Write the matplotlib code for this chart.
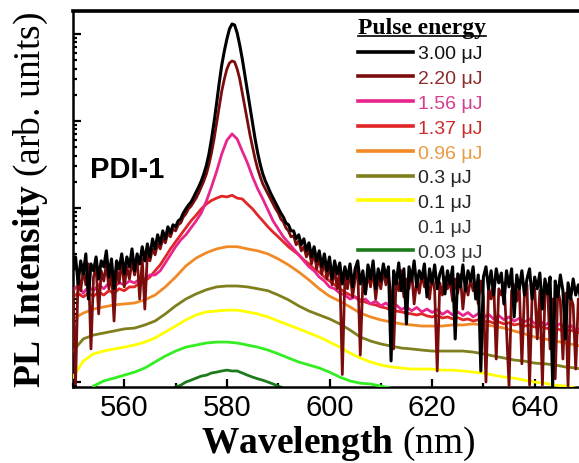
import numpy as np
import matplotlib
matplotlib.use("Agg")
import matplotlib.pyplot as plt
from matplotlib.lines import Line2D
from matplotlib.ticker import MultipleLocator

plt.rcParams['font.family'] = ['Liberation Sans', 'DejaVu Sans']
plt.rcParams['mathtext.fontset'] = 'custom'
plt.rcParams['mathtext.rm'] = 'Liberation Serif'
plt.rcParams['mathtext.bf'] = 'Liberation Serif:bold'

# wavelength grids (nm) of the spectra
wl_fine = np.arange(550.0, 649.01, 0.5)
wl_1nm = np.arange(550, 650)
wl_2nm = np.arange(550, 651, 2)
wl_green = np.arange(554, 613, 2)
wl_dkgreen = np.arange(570, 592)

# PL intensity (arb. units, log axis)
pl_3_00 = [
    20.0, 27.4, 13.4, 24.7, 17.5, 29.7, 9.0, 22.8, 19.0, 27.4,
    15.3, 24.7, 21.1, 32.2, 16.1, 26.0, 11.8, 24.7, 20.0, 29.7,
    17.5, 27.4, 21.1, 33.9, 19.0, 29.7, 22.8, 35.9, 24.7, 38.7,
    27.4, 44.2, 33.9, 49.2,
    38.7, 54.6, 44.2, 60.8, 51.8, 64.1, 60.8, 71.1, 75.0, 87.7,
    97.7, 108, 117, 133, 153, 175, 204, 246, 309, 418,
    621, 974, 1610, 2740, 4400, 6370, 8760, 11420, 13020, 12680,
    10270, 7470, 5160, 3380, 2210, 1450, 948, 621, 430, 317,
    246, 204, 175, 149, 130, 114, 100, 87.7, 78.8, 67.5,
    64.1, 54.6, 54.6, 44.2, 49.2, 37.8, 44.2, 32.2, 39.8, 27.4,
    35.9, 24.7, 32.2, 21.1, 29.7, 19.0, 27.4, 15.3, 24.7, 17.5,
    23.4, 13.4,
    21.1, 15.3, 22.8, 12.4, 20.0, 24.7, 13.4, 19.0, 10.3, 22.2,
    15.3, 24.7, 11.8, 20.0, 14.5, 22.8, 16.1, 21.1, 1.75, 19.0,
    13.4, 23.4, 11.2, 20.0, 4.66, 21.1, 14.5, 24.7, 12.4, 19.0,
    15.3, 22.8, 9.5, 20.0, 13.8, 22.2, 11.8, 17.5, 21.1, 10.3,
    19.0, 13.4, 21.1, 3.13, 17.5, 12.4, 22.2, 11.2, 19.0, 14.5,
    21.1, 9.0, 17.0, 1.34, 16.1, 21.1, 11.8, 19.0, 10.0, 20.0,
    13.8, 17.9, 7.9, 19.0, 12.4, 20.0, 5.6, 17.0, 11.8, 19.0,
    10.0, 15.3, 20.0, 9.0, 16.1, 11.8, 17.9, 6.9, 15.3, 10.3,
    16.1, 0.90, 14.5, 9.5, 17.0, 11.2, 3.13, 13.8, 9.0, 15.3,
    10.0, 13.1, 8.5,
]
pl_2_20 = [
    11.8, 0.95, 17.5, 11.2, 20.0, 13.1, 22.8, 2.40, 16.1, 21.1,
    6.07, 19.0, 14.5, 22.8, 11.8, 20.0, 5.03, 21.1, 13.8, 24.7,
    12.4, 21.1, 15.3, 24.7, 17.0, 27.4, 9.0, 26.0, 6.9, 29.7,
    24.7, 33.9, 29.0, 38.7,
    33.9, 44.2, 39.8, 51.8, 46.7, 57.5, 54.6, 64.1, 67.5, 78.8,
    85.6, 97.7, 105, 117, 130, 149, 175, 204, 246, 317,
    430, 621, 948, 1450, 2210, 3040, 3960, 4640, 4900, 4770,
    3960, 3040, 2100, 1450, 1000, 692, 505, 366, 281, 228,
    189, 166, 145, 127, 111, 97.7, 87.7, 75.0, 69.3, 59.2,
    54.6, 46.7, 48.0, 37.8, 42.0, 32.2, 35.9, 27.4, 33.9, 22.8,
    30.6, 20.0, 27.4, 17.5, 24.7, 15.3, 22.2, 13.1, 20.0, 11.8,
    19.0, 1.22,
    16.1, 11.8, 19.0, 9.5, 15.3, 20.0, 2.04, 14.5, 10.3, 17.9,
    12.4, 20.0, 9.0, 16.1, 11.8, 19.0, 13.1, 17.0, 10.0, 2.40,
    15.3, 11.2, 19.0, 9.5, 15.3, 11.8, 19.0, 7.9, 14.5, 10.5,
    17.5, 12.4, 15.3, 9.0, 17.0, 11.2, 1.34, 13.8, 10.0, 16.1,
    11.8, 14.5, 8.5, 15.3, 10.5, 17.0, 6.9, 13.8, 10.0, 15.3,
    11.2, 13.1, 7.9, 14.5, 9.5, 1.0, 12.4, 9.0, 14.5, 1.84,
    11.8, 10.0, 13.8, 4.08, 0.90, 11.2, 13.1, 8.5, 12.4, 1.62,
    10.5, 13.1, 0.92, 10.0, 11.8, 3.13, 11.2, 0.92, 10.0, 12.4,
    2.40, 9.0, 1.09, 11.2, 8.5, 1.84, 10.5, 0.90, 9.5, 7.7,
    1.41, 9.0, 6.9,
]
pl_1_56 = [
    11.2, 13.1, 10.5, 12.4, 11.2, 13.1, 11.8, 13.8, 12.4, 13.8,
    13.1, 14.5, 13.8, 15.3, 15.3, 17.0, 17.0, 19.0, 23.4, 29.0,
    35.9, 43.0, 49.2, 59.2, 71.1, 87.7, 120, 175, 264, 418,
    601, 710, 621, 450, 331, 228, 166, 127, 95.1, 71.1,
    57.5, 46.7, 39.8, 33.9, 29.0, 24.7, 21.1, 19.0, 16.1, 14.5,
    12.4, 11.8, 10.5, 10.0, 9.0, 9.5, 8.4, 9.0, 7.9, 8.5,
    7.5, 8.1, 7.1, 7.7, 6.8, 7.3, 6.6, 7.2, 6.4, 6.9,
    6.3, 6.8, 6.0, 6.55, 5.9, 6.4, 5.8, 6.3, 5.6, 6.1,
    5.5, 6.0, 5.3, 5.8, 5.2, 5.6, 5.0, 5.4, 4.9, 5.3,
    4.7, 5.1, 4.5, 4.9, 4.3, 4.7, 4.1, 4.5, 3.9, 4.2,
]
pl_1_37 = [
    9.5, 10.5, 9.5, 10.5, 9.7, 10.8, 10.0, 11.2, 10.5, 11.8,
    11.2, 12.4, 12.4, 13.8, 14.5, 16.1, 19.0, 22.2, 27.4, 33.9,
    40.9, 49.2, 59.2, 71.1, 82.8, 97.7, 111, 122, 130, 137,
    134, 140, 130, 127, 111, 97.7, 82.8, 71.1, 60.8, 52.9,
    46.7, 40.9, 35.9, 32.2, 29.0, 25.3, 22.8, 20.0, 18.4, 16.1,
    14.5, 13.1, 11.8, 10.8, 10.0, 9.5, 8.8, 8.3, 7.9, 7.7,
    7.3, 7.1, 6.7, 6.55, 6.4, 6.2, 6.07, 5.9, 6.1, 5.75,
    5.6, 5.8, 5.45, 5.6, 5.32, 5.5, 5.18, 5.3, 5.03, 5.2,
    4.9, 5.0, 4.77, 4.9, 4.66, 4.8, 4.53, 4.65, 4.4, 4.5,
    4.29, 4.4, 4.17, 4.08, 4.2, 3.96, 3.86, 3.95, 3.76, 3.66,
]
pl_0_96 = [
    5.32, 6.2, 6.9, 7.3, 7.7, 7.9, 8.1, 8.8, 10.0, 12.4,
    16.1, 21.6, 26.6, 30.6, 33.9, 35.9, 35.9, 33.9, 32.2, 29.7,
    26.0, 22.2, 18.4, 14.9, 11.8, 9.7, 8.5, 7.3, 6.2, 5.6,
    5.18, 4.9, 4.66, 4.53, 4.4, 4.4, 4.4, 4.53, 4.53, 4.66,
    4.53, 4.4, 4.17, 3.86, 3.58, 3.29, 3.13, 2.96, 2.81, 2.66, 2.52,
]
pl_0_3 = [
    2.27, 3.13, 3.47, 3.66, 3.86, 4.08, 4.17, 4.53, 5.03, 6.07,
    7.5, 9.0, 10.3, 11.5, 12.4, 12.7, 12.7, 12.4, 11.8, 11.2,
    10.0, 8.8, 7.5, 6.55, 5.9, 5.32, 4.66, 3.96, 3.29, 2.96,
    2.74, 2.59, 2.46, 2.40, 2.33, 2.27, 2.27, 2.27, 2.27, 2.21,
    2.11, 1.99, 1.89, 1.79, 1.74, 1.65, 1.62, 1.57, 1.49, 1.45, 1.37,
]
pl_0_1 = [
    1.14, 1.74, 2.11, 2.27, 2.40, 2.52, 2.66, 2.88, 3.21, 3.76,
    4.4, 5.18, 5.9, 6.4, 6.55, 6.7, 6.7, 6.4, 6.07, 5.6,
    5.03, 4.53, 4.08, 3.66, 3.29, 2.88, 2.52, 2.15, 1.89, 1.70,
    1.57, 1.49, 1.45, 1.41, 1.41, 1.41, 1.37, 1.37, 1.34, 1.30,
    1.27, 1.20, 1.14, 1.11, 1.05, 1.0, 0.97, 0.92, 0.90, 0.85, 0.83,
]
pl_0_1b = [
    0.90, 1.03, 1.11, 1.20, 1.30, 1.45, 1.70, 1.99, 2.27, 2.52,
    2.66, 2.81, 2.88, 2.88, 2.81, 2.66, 2.52, 2.33, 2.11, 1.89,
    1.70, 1.57, 1.45, 1.30, 1.14, 1.03, 0.97, 0.95, 0.90, 0.85,
]
pl_0_03 = [
    0.877, 0.92, 1.0, 1.05, 1.11, 1.17, 1.20, 1.27, 1.30, 1.34,
    1.37, 1.34, 1.34, 1.27, 1.20, 1.14, 1.09, 1.05, 1.0, 0.95,
    0.90, 0.85,
]

labels = ['3.00 μJ', '2.20 μJ', '1.56 μJ', '1.37 μJ', '0.96 μJ',
          '0.3 μJ', '0.1 μJ', '0.1 μJ', '0.03 μJ']
colors = ['#000000', '#7a0c0c', '#e8258c', '#e02626', '#f08a26',
          '#7f7f1e', '#ffff00', '#33ee22', '#1c7c1c']
text_colors = ['#111111', '#8b2a2a', '#d63c8f', '#cc2b2b', '#e89a40',
               '#222222', '#222222', '#333333', '#333333']

series = [(wl_fine, pl_3_00), (wl_fine, pl_2_20), (wl_1nm, pl_1_56),
          (wl_1nm, pl_1_37), (wl_2nm, pl_0_96), (wl_2nm, pl_0_3),
          (wl_2nm, pl_0_1), (wl_green, pl_0_1b), (wl_dkgreen, pl_0_03)]

fig = plt.figure(figsize=(5.79, 4.64), dpi=100)
ax = fig.add_axes([73/579, 76/464, 513/579, 376/464])

handles = [None] * len(series)
for i in reversed(range(len(series))):
    x, y = series[i]
    lw = 2.2 if i == 0 else 2.0
    ln, = ax.plot(x, y, color=colors[i], lw=lw, zorder=10 - i)
    handles[i] = ln
# the second 0.1 uJ entry has no visible line in the key
handles[7] = Line2D([], [], color='none', lw=2)

ax.set_yscale('log')
ax.set_xlim(550, 650)
ax.set_ylim(0.877, 18370)
ax.xaxis.set_major_locator(MultipleLocator(20))
ax.xaxis.set_minor_locator(MultipleLocator(10))
ax.tick_params(which='both', direction='in', top=False, right=False,
               labelleft=False, width=1.6)
ax.tick_params(which='major', length=6)
ax.tick_params(which='minor', length=3)
ax.tick_params(axis='x', labelsize=21, pad=4)
for s in ['left', 'bottom']:
    ax.spines[s].set_linewidth(1.8)
ax.spines['top'].set_linewidth(2.6)
ax.spines['right'].set_visible(False)

ax.text(0.033, 0.559, 'PDI-1', transform=ax.transAxes, fontsize=21,
        fontweight='bold', va='baseline', ha='left')

leg = ax.legend(handles, labels, loc='upper left', bbox_to_anchor=(0.556, 0.985),
                frameon=False, fontsize=14, handlelength=2.8, handletextpad=0.26,
                labelspacing=0.37, borderpad=0, borderaxespad=0,
                title='Pulse energy', alignment='left',
                title_fontproperties={'family': 'Liberation Serif',
                                      'weight': 'bold', 'size': 17})
for t, c in zip(leg.get_texts(), text_colors):
    t.set_color(c)
for h in leg.legend_handles:
    h.set_linewidth(2.6)

fig.text(338/579, 1 - 444/464, r'$\mathbf{Wavelength}$ (nm)',
         family='Liberation Serif', fontsize=27, ha='center', va='center')
fig.text(31/579, 1 - 200/464, r'$\mathbf{PL\ Intensity}$ (arb. units)',
         family='Liberation Serif', fontsize=27, ha='center', va='center',
         rotation=90)

# underline the key title
fig.canvas.draw()
bb = leg.get_title().get_window_extent()
W, H = fig.get_size_inches() * fig.dpi
fig.add_artist(Line2D([bb.x0 / W, bb.x1 / W], [(bb.y0 + 2) / H, (bb.y0 + 2) / H],
                      color='black', lw=1.2, transform=fig.transFigure))

fig.savefig('out.png', dpi=100)
